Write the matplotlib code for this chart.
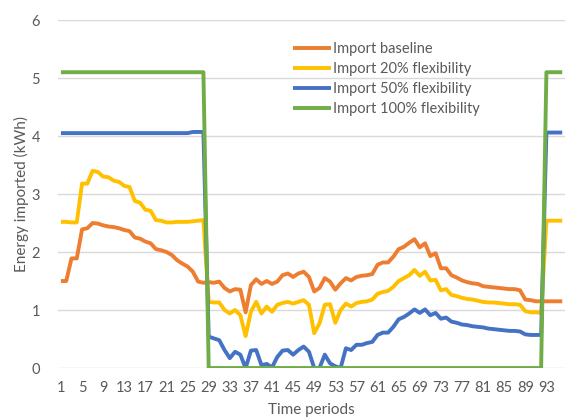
import numpy as np
import matplotlib.pyplot as plt

plt.rcParams['font.family'] = ['Lato', 'DejaVu Sans']

periods = np.arange(1, 97)

# Import baseline
baseline = [1.50, 1.50, 1.89, 1.89, 2.39, 2.41, 2.50, 2.49, 2.46, 2.44, 2.43, 2.41,
            2.38, 2.36, 2.25, 2.23, 2.18, 2.15, 2.05, 2.03, 2.00, 1.95, 1.86, 1.80,
            1.75, 1.66, 1.49, 1.47,
            1.48, 1.47, 1.49, 1.38, 1.32, 1.36, 1.35, 0.96, 1.43, 1.53, 1.45, 1.50,
            1.45, 1.49, 1.60, 1.63, 1.57, 1.63, 1.66, 1.57, 1.32, 1.38, 1.55, 1.49,
            1.35, 1.46, 1.55, 1.51, 1.57, 1.59, 1.60, 1.62,
            1.78, 1.82, 1.82, 1.92, 2.05, 2.09, 2.16, 2.22, 2.08, 2.15, 1.93, 1.98,
            1.72, 1.72, 1.60, 1.56, 1.51, 1.48, 1.46, 1.45, 1.41, 1.40, 1.39, 1.38,
            1.37, 1.36, 1.36, 1.34, 1.18, 1.17, 1.15, 1.15, 1.15, 1.15, 1.15, 1.15]

# Import 20% flexibility
flex20 = [2.52, 2.52, 2.51, 2.51, 3.18, 3.18, 3.40, 3.38, 3.30, 3.29, 3.23, 3.21,
          3.14, 3.12, 2.88, 2.85, 2.73, 2.71, 2.55, 2.54, 2.51, 2.51, 2.52, 2.52,
          2.52, 2.53, 2.54, 2.55,
          1.14, 1.13, 1.13, 1.00, 0.94, 1.00, 0.91, 0.55, 0.97, 1.14, 0.94, 1.06,
          0.97, 1.09, 1.12, 1.14, 1.11, 1.14, 1.17, 1.09, 0.60, 0.77, 1.09, 1.10,
          0.78, 1.00, 1.11, 1.06, 1.12, 1.14, 1.15, 1.18,
          1.28, 1.31, 1.33, 1.40, 1.50, 1.55, 1.60, 1.69, 1.59, 1.66, 1.51, 1.52,
          1.34, 1.36, 1.26, 1.24, 1.21, 1.19, 1.18, 1.16, 1.14, 1.13, 1.13, 1.12,
          1.11, 1.10, 1.10, 1.09, 0.98, 0.96, 0.96, 0.95, 2.54, 2.54, 2.54, 2.54]

# Import 50% flexibility
flex50 = [4.05] * 25 + [4.07, 4.07, 4.07] + \
         [0.54, 0.51, 0.48, 0.31, 0.17, 0.28, 0.23, 0.00, 0.30, 0.31, 0.05, 0.07,
          0.01, 0.19, 0.30, 0.31, 0.23, 0.31, 0.37, 0.28, 0.00, 0.00, 0.23, 0.08,
          0.03, 0.00, 0.34, 0.31, 0.40, 0.40, 0.43, 0.45,
          0.57, 0.61, 0.61, 0.71, 0.84, 0.88, 0.94, 1.01, 0.95, 1.01, 0.91, 0.95,
          0.85, 0.87, 0.80, 0.78, 0.75, 0.74, 0.72, 0.71, 0.70, 0.68, 0.67, 0.66,
          0.65, 0.64, 0.64, 0.63, 0.58, 0.57, 0.57, 0.57, 4.06, 4.06, 4.06, 4.06]

# Import 100% flexibility
flex100 = [5.1] * 28 + [0.0] * 64 + [5.1] * 4

series = [baseline, flex20, flex50, flex100]
names = ['Import baseline', 'Import 20% flexibility',
         'Import 50% flexibility', 'Import 100% flexibility']
colors = ['#ED7D31', '#FFC000', '#4472C4', '#70AD47']

text_col = '#595959'
grid_col = '#D9D9D9'

fig = plt.figure(figsize=(5.66, 4.19), dpi=100)
ax = fig.add_axes([0.103, 0.1217, 0.895, 0.8305])

for i in range(4):
    ax.plot(periods, series[i], color=colors[i], lw=2.8, label=names[i],
            solid_joinstyle='round', solid_capstyle='butt')

ax.set_xlim(0.5, 96.5)
ax.set_ylim(0, 6)
ax.set_xticks(np.arange(1, 97, 4))
ax.set_yticks(range(0, 7))
ax.grid(axis='y', color=grid_col, lw=1)
ax.set_axisbelow(True)
for s in ax.spines.values():
    s.set_visible(False)
ax.tick_params(length=0, labelsize=10.5, colors=text_col)
ax.tick_params(axis='y', pad=13)
ax.tick_params(axis='x', pad=9)

ax.set_xlabel('Time periods', fontsize=11, color=text_col, labelpad=6)
ax.set_ylabel('Energy imported (kWh)', fontsize=11, color=text_col, labelpad=2)

ax.legend(loc='upper left', bbox_to_anchor=(0.505, 0.918),
          bbox_transform=fig.transFigure, frameon=False, fontsize=10.5,
          handlelength=2.6, handletextpad=0.15, labelspacing=0.42,
          borderpad=0, labelcolor=text_col)

plt.savefig('out.png', dpi=100)
